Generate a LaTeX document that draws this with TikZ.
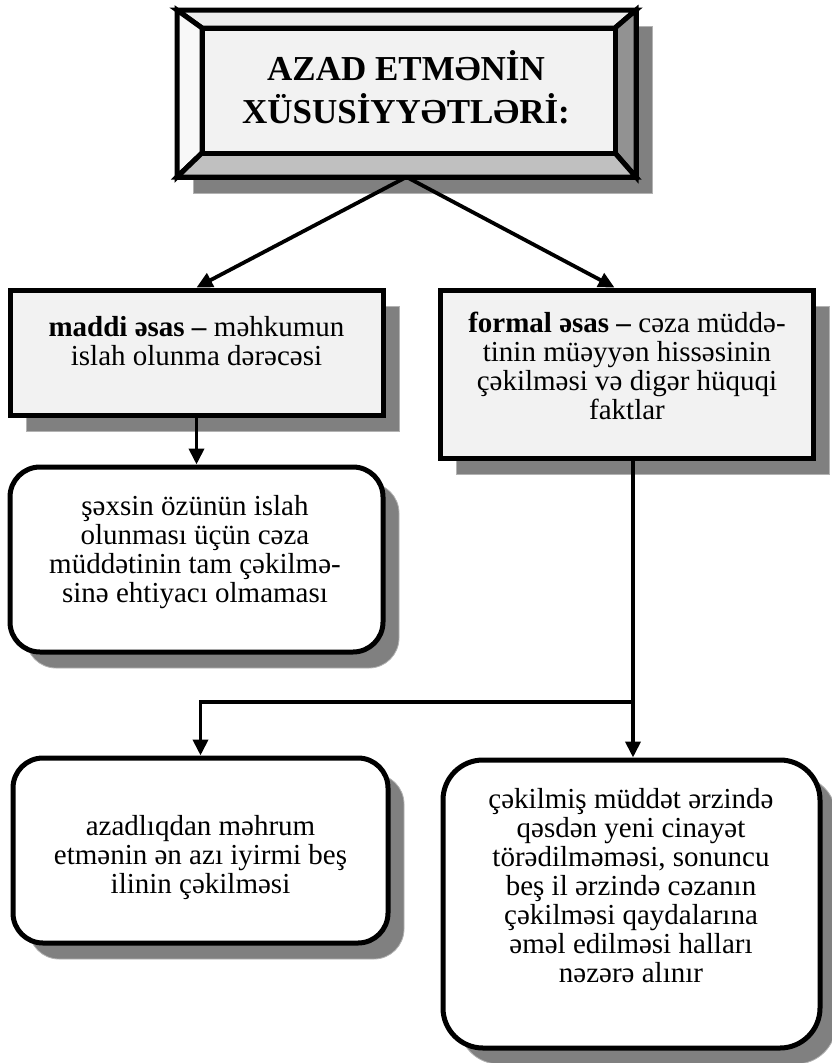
\documentclass[tikz,border=0pt]{standalone}
\usepackage{fontspec}
\setmainfont{Liberation Serif}
\usetikzlibrary{arrows.meta,calc,shadows}
\definecolor{facegray}{HTML}{F2F2F2}
\definecolor{shadegray}{HTML}{808080}
\definecolor{bevellight}{HTML}{EDEDED}
\definecolor{bevelwhite}{HTML}{F8F8F8}
\definecolor{bevelmid}{HTML}{C0C0C0}
\definecolor{beveldark}{HTML}{929292}
\tikzset{
  boxshadow/.style={drop shadow={shadow xshift=16pt,shadow yshift=-16pt,fill=shadegray,draw=black!30,line width=0.8pt,opacity=1}},
  squarebox/.style={draw=black,line width=5pt,fill=facegray,boxshadow,minimum width=373pt,inner sep=0pt},
  roundbox/.style={draw=black,line width=5pt,fill=white,rounded corners=30pt,boxshadow,inner sep=0pt},
  boxtext/.style={font=\fontsize{29}{29}\selectfont,align=center,inner sep=0pt,anchor=north},
  bevel/.style={draw=black,line width=5pt,line join=miter},
  link/.style={line width=3.8pt,-{Triangle[length=16pt,width=15pt]}}
}

\begin{document}
\begin{tikzpicture}[x=1pt,y=1pt]
\useasboundingbox (0,0) rectangle (831,-1063);
\node[bevel,fill=white,outer sep=0pt,minimum width=459pt,minimum height=167pt,boxshadow] (title) at (406.5,-93.5) {};
\coordinate (inner nw) at ($(title.north west)+(25,-18)$);
\coordinate (inner ne) at ($(title.north east)+(-21,-18)$);
\coordinate (inner se) at ($(title.south east)+(-21,24)$);
\coordinate (inner sw) at ($(title.south west)+(25,24)$);
\filldraw[bevel,fill=bevellight] (title.north west) -- (title.north east) -- (inner ne) -- (inner nw) -- cycle;
\filldraw[bevel,fill=bevelwhite] (title.north west) -- (inner nw) -- (inner sw) -- (title.south west) -- cycle;
\filldraw[bevel,fill=beveldark] (title.north east) -- (title.south east) -- (inner se) -- (inner ne) -- cycle;
\filldraw[bevel,fill=bevelmid] (title.south west) -- (inner sw) -- (inner se) -- (title.south east) -- cycle;
\filldraw[bevel,fill=facegray] (inner nw) rectangle (inner se);
\node[font=\fontsize{35}{43}\selectfont\bfseries,align=center,inner sep=0pt,anchor=north] (title text) at (406,-50) {AZAD ETMƏNİN\\XÜSUSİYYƏTLƏRİ:};

\node[squarebox,minimum height=125pt] (maddi) at (196.5,-352.5) {};
\node[squarebox,minimum height=168pt] (formal) at (626.5,-374) {};
\node[roundbox,minimum width=373pt,minimum height=185pt] (sexsin) at (196.5,-559.5) {};
\node[roundbox,minimum width=375pt,minimum height=185pt] (azad) at (200.5,-850.5) {};
\node[roundbox,rounded corners=40pt,minimum width=377pt,minimum height=288pt] (cekil) at (631.5,-904) {};

\node[boxtext] (maddi text) at (196.5,-316) {\textbf{maddi əsas –} məhkumun\\islah olunma dərəcəsi};
\node[boxtext] (formal text) at (627,-312) {\textbf{formal əsas –} cəza müddə-\\tinin müəyyən hissəsinin\\çəkilməsi və digər hüquqi\\faktlar};
\node[boxtext] (sexsin text) at (195,-495) {şəxsin özünün islah\\olunması üçün cəza\\müddətinin tam çəkilmə-\\sinə ehtiyacı olmaması};
\node[boxtext] (azad text) at (200.5,-815) {azadlıqdan məhrum\\etmənin ən azı iyirmi beş\\ilinin çəkilməsi};
\node[boxtext] (cekil text) at (631,-788) {çəkilmiş müddət ərzində\\qəsdən yeni cinayət\\törədilməməsi, sonuncu\\beş il ərzində cəzanın\\çəkilməsi qaydalarına\\əməl edilməsi halları\\nəzərə alınır};

\draw[link] (title.south) -- (maddi.north);
\draw[link] (title.south) -- ($(formal.north)+(-12,0)$);
\draw[link] (maddi.south) -- (sexsin.north);
\coordinate (fork) at (633,-702);
\draw[line width=3.8pt] (formal.south -| fork) -- (fork);
\draw[link] (fork) -| (azad.north);
\draw[link] (fork) -- (cekil.north -| fork);
\end{tikzpicture}
\end{document}
